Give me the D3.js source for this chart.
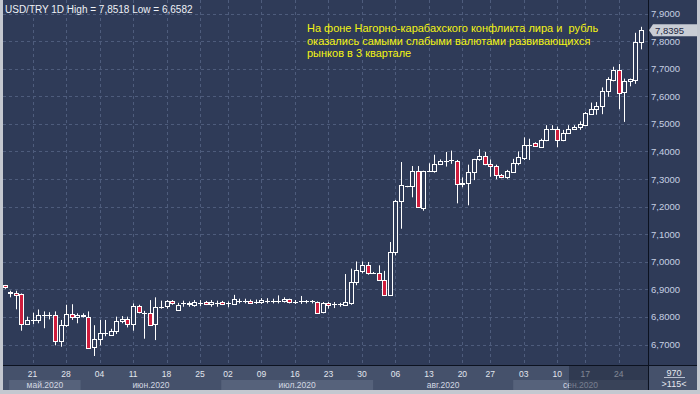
<!DOCTYPE html>
<html>
<head>
<meta charset="utf-8">
<script src="https://cdn.jsdelivr.net/npm/d3@7"></script>
<style>
    body { margin: 0; background: #c4c8d0; }
    svg { display: block; font-family: "Liberation Sans", Arial, sans-serif; }
</style>
</head>
<body>
<svg id="chart" width="700" height="394"></svg>
<script>

// daily candles, USD/TRY, 15 May .. 29 Sep 2020
var opens = [
    6.914, 6.887, 6.888, 6.883, 6.774, 6.789, 6.789, 6.808, 6.807, 6.806,
    6.711, 6.770, 6.810, 6.798, 6.806, 6.801, 6.690, 6.719, 6.741, 6.737,
    6.748, 6.784, 6.791, 6.774, 6.839, 6.815, 6.816, 6.774, 6.835, 6.837,
    6.856, 6.827, 6.848, 6.844, 6.844, 6.851, 6.854, 6.846, 6.852, 6.854,
    6.849, 6.849, 6.858, 6.859, 6.859, 6.853, 6.854, 6.859, 6.858, 6.859,
    6.857, 6.864, 6.854, 6.856, 6.856, 6.856, 6.854, 6.815, 6.849, 6.845,
    6.846, 6.844, 6.849, 6.926, 6.967, 6.987, 6.961, 6.960, 6.934, 6.879,
    7.033, 7.219, 7.273, 7.272, 7.328, 7.195, 7.330, 7.330, 7.354, 7.366,
    7.368, 7.366, 7.2865, 7.2865, 7.325, 7.371, 7.383, 7.354, 7.347, 7.313,
    7.306, 7.326, 7.357, 7.374, 7.422, 7.432, 7.418, 7.439, 7.482, 7.482,
    7.441, 7.466, 7.480, 7.487, 7.495, 7.538, 7.555, 7.563, 7.618, 7.659,
    7.695, 7.613, 7.652, 7.659, 7.797
];
var highs = [
    6.916, 6.895, 6.895, 6.885, 6.801, 6.815, 6.827, 6.820, 6.817, 6.820,
    6.789, 6.844, 6.846, 6.813, 6.813, 6.820, 6.770, 6.789, 6.789, 6.757,
    6.801, 6.803, 6.801, 6.849, 6.844, 6.822, 6.861, 6.871, 6.859, 6.861,
    6.861, 6.851, 6.859, 6.856, 6.861, 6.861, 6.858, 6.861, 6.859, 6.858,
    6.856, 6.880, 6.866, 6.866, 6.863, 6.863, 6.868, 6.868, 6.866, 6.878,
    6.871, 6.866, 6.861, 6.876, 6.861, 6.861, 6.856, 6.854, 6.854, 6.854,
    6.851, 6.9555, 6.975, 7.001, 7.001, 6.999, 6.963, 6.987, 6.967, 7.0715,
    7.224, 7.3615, 7.275, 7.347, 7.347, 7.330, 7.357, 7.388, 7.371, 7.398,
    7.403, 7.369, 7.306, 7.352, 7.373, 7.408, 7.398, 7.371, 7.352, 7.318,
    7.333, 7.373, 7.400, 7.451, 7.446, 7.433, 7.446, 7.495, 7.495, 7.490,
    7.478, 7.495, 7.495, 7.509, 7.543, 7.577, 7.579, 7.632, 7.669, 7.707,
    7.717, 7.664, 7.664, 7.830, 7.8518
];
var lows = [
    6.902, 6.871, 6.8275, 6.750, 6.771, 6.774, 6.777, 6.759, 6.791, 6.697,
    6.692, 6.764, 6.789, 6.777, 6.798, 6.687, 6.6582, 6.697, 6.730, 6.735,
    6.738, 6.777, 6.762, 6.750, 6.813, 6.721, 6.770, 6.716, 6.830, 6.830,
    6.844, 6.822, 6.837, 6.837, 6.837, 6.839, 6.843, 6.837, 6.837, 6.843,
    6.835, 6.844, 6.849, 6.849, 6.847, 6.847, 6.847, 6.849, 6.849, 6.849,
    6.852, 6.849, 6.847, 6.847, 6.849, 6.849, 6.813, 6.813, 6.830, 6.832,
    6.837, 6.842, 6.844, 6.915, 6.958, 6.953, 6.956, 6.931, 6.878, 6.877,
    7.023, 7.1197, 7.270, 7.2336, 7.196, 7.185, 7.325, 7.323, 7.352, 7.345,
    7.355, 7.2118, 7.270, 7.2046, 7.296, 7.366, 7.350, 7.308, 7.299, 7.303,
    7.301, 7.323, 7.350, 7.369, 7.369, 7.418, 7.415, 7.437, 7.478, 7.415,
    7.437, 7.463, 7.478, 7.478, 7.492, 7.536, 7.533, 7.535, 7.598, 7.654,
    7.553, 7.507, 7.636, 7.645, 7.770
];
var closes = [
    6.905, 6.889, 6.880, 6.774, 6.789, 6.790, 6.808, 6.807, 6.808, 6.711,
    6.770, 6.810, 6.798, 6.806, 6.808, 6.690, 6.719, 6.741, 6.742, 6.750,
    6.786, 6.791, 6.774, 6.839, 6.818, 6.816, 6.774, 6.835, 6.836, 6.856,
    6.849, 6.845, 6.849, 6.849, 6.854, 6.852, 6.846, 6.854, 6.851, 6.846,
    6.848, 6.866, 6.859, 6.858, 6.851, 6.854, 6.861, 6.858, 6.859, 6.858,
    6.864, 6.854, 6.855, 6.857, 6.856, 6.855, 6.815, 6.849, 6.842, 6.846,
    6.845, 6.854, 6.9265, 6.970, 6.987, 6.958, 6.960, 6.934, 6.880, 7.035,
    7.219, 7.277, 7.272, 7.328, 7.197, 7.328, 7.330, 7.354, 7.364, 7.367,
    7.369, 7.282, 7.282, 7.325, 7.371, 7.383, 7.354, 7.347, 7.313, 7.306,
    7.328, 7.357, 7.379, 7.422, 7.421, 7.420, 7.442, 7.480, 7.482, 7.441,
    7.466, 7.480, 7.487, 7.499, 7.540, 7.555, 7.565, 7.619, 7.661, 7.695,
    7.613, 7.654, 7.661, 7.797, 7.8395
];

var price_ticks = [6.7, 6.8, 6.9, 7.0, 7.1, 7.2, 7.3, 7.4, 7.5, 7.6, 7.7, 7.8, 7.9];
var date_tick_idx = [5, 11, 17, 23, 29, 35, 40, 46, 52, 58, 64, 70, 76, 82, 87, 93, 99, 104, 110];
var date_tick_labels = ['21', '28', '04', '11', '18', '25', '02', '09', '16', '23', '30', '06', '13', '20', '27', '03', '10', '17', '24'];
var month_labels = ['май.2020', 'июн.2020', 'июл.2020', 'авг.2020', 'сен.2020'];
var month_edges = [0.8, 13.6, 38.8, 66.0, 91.1, 115.2];

var title_text = 'USD/TRY 1D High = 7,8518 Low = 6,6582';
var note_lines = [
    'На фоне Нагорно-карабахского конфликта лира и  рубль',
    'оказались самыми слабыми валютами развивающихся',
    'рынков в 3 квартале'
];

var bg = '#2f3b58';
var plot = { left: 3, right: 648, top: 0, bottom: 365 };

var svg = d3.select('#chart');

var x = d3.scaleLinear().domain([0, opens.length - 1]).range([4.7, 641]);
var y = d3.scaleLinear().domain([6.7, 7.9]).range([344.5, 13.5]);
var fmt = function (v) { return d3.format('.4f')(v).replace('.', ','); };

// panels
svg.append('rect').attr('x', 3).attr('y', 0).attr('width', 694).attr('height', 390).attr('fill', bg);
svg.append('rect').attr('x', 3).attr('y', plot.bottom).attr('width', 694).attr('height', 25).attr('fill', '#45516b');

// month bands
var months = month_labels.map(function (m, i) {
    return { label: m, a: month_edges[i], b: month_edges[i + 1], shade: i % 2 === 0 };
});
svg.append('g').selectAll('rect')
    .data(months.filter(function (d) { return d.shade; }))
    .enter().append('rect')
    .attr('x', function (d) { return x(d.a); })
    .attr('y', 380)
    .attr('width', function (d) { return Math.min(x(d.b), plot.right) - x(d.a); })
    .attr('height', 10)
    .attr('fill', '#56627b');

svg.append('defs').append('clipPath').attr('id', 'plotclip')
    .append('rect').attr('x', plot.left).attr('y', plot.top)
    .attr('width', plot.right - plot.left).attr('height', plot.bottom - plot.top);

// grid
var grid = svg.append('g').attr('clip-path', 'url(#plotclip)');
grid.selectAll('.hg').data(price_ticks).enter().append('line')
    .attr('x1', plot.left).attr('x2', plot.right)
    .attr('y1', function (d) { return Math.round(y(d)) + 0.5; })
    .attr('y2', function (d) { return Math.round(y(d)) + 0.5; })
    .attr('stroke', '#4e5c7c').attr('stroke-dasharray', '3,3');
grid.selectAll('.vg').data(date_tick_idx).enter().append('line')
    .attr('x1', function (d) { return Math.round(x(d)) + 0.5; })
    .attr('x2', function (d) { return Math.round(x(d)) + 0.5; })
    .attr('y1', plot.top).attr('y2', plot.bottom)
    .attr('stroke', '#4e5c7c').attr('stroke-dasharray', '3,3');

// candles
var candles = opens.map(function (o, i) {
    return { i: i, o: o, h: highs[i], l: lows[i], c: closes[i] };
});
var cg = svg.append('g').attr('clip-path', 'url(#plotclip)')
    .selectAll('g').data(candles).enter().append('g');

cg.append('line')
    .attr('x1', function (d) { return Math.round(x(d.i)) + 0.5; })
    .attr('x2', function (d) { return Math.round(x(d.i)) + 0.5; })
    .attr('y1', function (d) { return y(d.h); })
    .attr('y2', function (d) { return y(d.l); })
    .attr('stroke', '#ffffff');

cg.append('rect')
    .attr('x', function (d) { return Math.round(x(d.i)) - 1.5; })
    .attr('width', 4)
    .attr('y', function (d) { return Math.round(y(Math.max(d.o, d.c))) + 0.5; })
    .attr('height', function (d) { return Math.max(0.01, Math.round(Math.abs(y(d.o) - y(d.c)))); })
    .attr('fill', function (d) { return d.c < d.o ? '#cf1d3d' : bg; })
    .attr('stroke', '#ffffff');

// frame lines
svg.append('line').attr('x1', 3).attr('x2', 697).attr('y1', plot.bottom + 0.5).attr('y2', plot.bottom + 0.5).attr('stroke', '#0c1220');
svg.append('line').attr('x1', plot.right + 0.5).attr('x2', plot.right + 0.5).attr('y1', 0).attr('y2', 390).attr('stroke', '#0c1220');

// price axis
svg.append('g').selectAll('text').data(price_ticks).enter().append('text')
    .attr('x', 651)
    .attr('y', function (d) { return y(d) + 3.5; })
    .attr('font-size', 9.5)
    .attr('fill', '#c6cfe2')
    .text(fmt);

var last = closes[closes.length - 1];
var ly = y(last);
svg.append('path')
    .attr('d', 'M649,' + ly + ' L653,' + (ly - 6) + ' L697,' + (ly - 6) + ' L697,' + (ly + 6) + ' L653,' + (ly + 6) + ' Z')
    .attr('fill', '#c9cdd5');
svg.append('text').attr('x', 655).attr('y', ly + 3.5)
    .attr('font-size', 9.5).attr('fill', '#1c2540').text(fmt(last));

// date axis
svg.append('g').selectAll('text').data(date_tick_idx).enter().append('text')
    .attr('x', function (d) { return x(d); })
    .attr('y', 376.5)
    .attr('text-anchor', 'middle')
    .attr('font-size', 8.5)
    .attr('fill', '#e2e6ee')
    .text(function (d, i) { return date_tick_labels[i]; });

svg.append('g').selectAll('text').data(months).enter().append('text')
    .attr('x', function (d) { return x((d.a + d.b) / 2); })
    .attr('y', 387.5)
    .attr('text-anchor', 'middle')
    .attr('font-size', 8.5)
    .attr('fill', '#d3d8e2')
    .text(function (d) { return d.label; });

// scroller shade over the last weeks
svg.append('rect').attr('x', 569).attr('y', plot.bottom + 1).attr('width', plot.right - 569).attr('height', 24)
    .attr('fill', '#1c2438').attr('fill-opacity', 0.5);

svg.append('text').attr('x', 674).attr('y', 375.5).attr('text-anchor', 'middle')
    .attr('font-size', 9).attr('fill', '#e4e8f0').text('970');
svg.append('line').attr('x1', 664).attr('x2', 685).attr('y1', 377.5).attr('y2', 377.5).attr('stroke', '#b8bfce');
svg.append('text').attr('x', 674).attr('y', 387).attr('text-anchor', 'middle')
    .attr('font-size', 9).attr('fill', '#e4e8f0').text('>' + opens.length + '<');

// title + note
svg.append('text').attr('x', 5).attr('y', 13).attr('font-size', 10).attr('fill', '#eef1f6').text(title_text);
svg.append('g').selectAll('text').data(note_lines).enter().append('text')
    .attr('x', 307)
    .attr('y', function (d, i) { return 32 + i * 12.5; })
    .attr('font-size', 11)
    .attr('fill', '#f4f412')
    .style('white-space', 'pre')
    .text(function (d) { return d; });

</script>
</body>
</html>
